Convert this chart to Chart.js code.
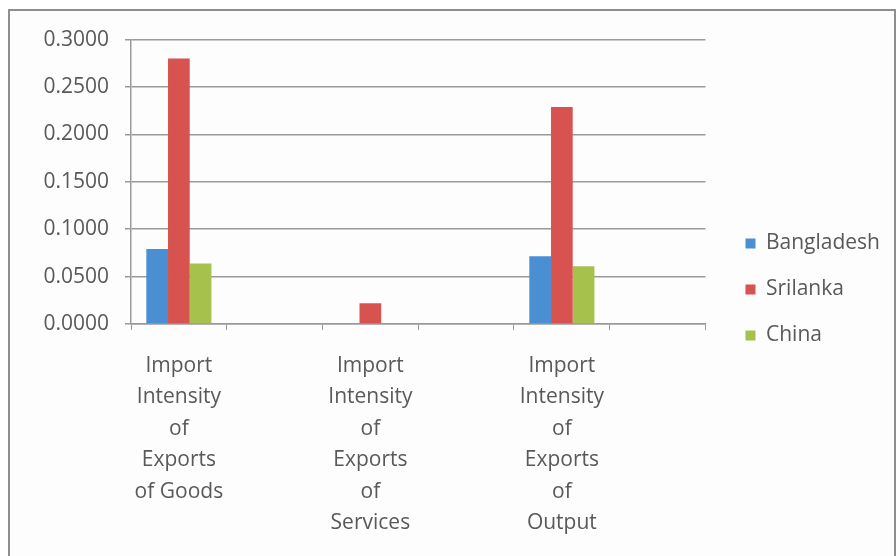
<!DOCTYPE html>
<html>
<head>
<meta charset="utf-8">
<script src="https://cdn.jsdelivr.net/npm/chart.js@4"></script>
<style>
  html, body { margin: 0; padding: 0; background: #fff; }
  #frame {
    position: absolute; left: 8px; top: 9px;
    width: 884px; height: 560px;
    border: 2px solid #8f8f8f; background: #fdfdfd;
  }
  #myChart { position: absolute; left: 0; top: 0; }
</style>
</head>
<body>
<div id="frame"><canvas id="myChart" width="884" height="548"></canvas></div>
<script>
// categorie (le colonne vuote separano i gruppi)
const categorie = [
  ['Import', 'Intensity', 'of', 'Exports', 'of Goods'],
  '',
  ['Import', 'Intensity', 'of', 'Exports', 'of', 'Services'],
  '',
  ['Import', 'Intensity', 'of', 'Exports', 'of', 'Output'],
  ''
];
const bangladesh = [0.0790, null, 0, null, 0.0715, null];
const srilanka   = [0.2800, null, 0.0220, null, 0.2290, null];
const china      = [0.0638, null, 0, null, 0.0610, null];
const tickY = [0, 0.05, 0.10, 0.15, 0.20, 0.25, 0.30];

const grigio = '#9a9a9a';
const testo = '#595959';
const font = { family: 'Open Sans', size: 21 };

// sposta la legenda senza toccare l'area del grafico
const spostaLegenda = {
  id: 'spostaLegenda',
  afterLayout(c) {
    c.legend.left += 15;
    c.legend.right += 15;
    c.legend.top -= 8;
    c.legend.bottom -= 8;
  }
};

const chart = document.getElementById('myChart');
new Chart(chart, {
  type: 'bar',
  data: {
    labels: categorie,
    datasets: [
      { label: 'Bangladesh', data: bangladesh, backgroundColor: '#4a8fd2' },
      { label: 'Srilanka', data: srilanka, backgroundColor: '#d8534f' },
      { label: 'China', data: china, backgroundColor: '#a7c24c' }
    ]
  },
  plugins: [spostaLegenda],
  options: {
    responsive: false,
    animation: false,
    layout: { padding: { top: 25, right: 19, bottom: 0, left: 0 } },
    datasets: { bar: { barPercentage: 1, categoryPercentage: 0.68 } },
    plugins: {
      tooltip: { enabled: false },
      legend: {
        position: 'right',
        labels: {
          color: testo, font: font,
          boxWidth: 10, boxHeight: 10, padding: 25
        }
      }
    },
    scales: {
      x: {
        grid: {
          offset: true, drawOnChartArea: false, drawTicks: true,
          tickLength: 6, color: grigio
        },
        border: { color: grigio, width: 1.5 },
        ticks: {
          color: testo, font: { ...font, lineHeight: 1.5 },
          autoSkip: false, maxRotation: 0, minRotation: 0, padding: 20
        }
      },
      y: {
        min: 0, max: 0.3,
        afterBuildTicks: (s) => { s.ticks = tickY.map(v => ({ value: v })); },
        afterFit: (s) => { s.width = 121; },
        grid: { color: grigio, lineWidth: 1.5, tickLength: 6 },
        border: { color: grigio, width: 1.5 },
        ticks: {
          color: testo, font: font, padding: 16,
          callback: (v) => v.toFixed(4)
        }
      }
    }
  }
});
</script>
</body>
</html>
